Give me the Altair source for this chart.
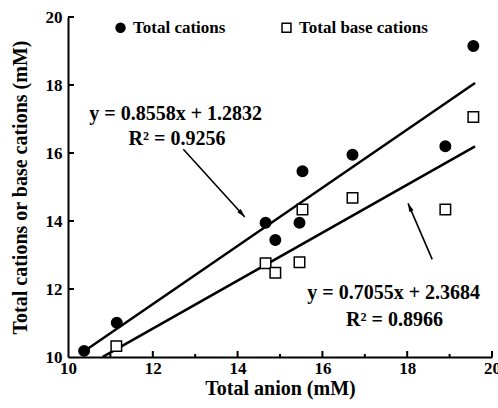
import altair as alt
import pandas as pd
import numpy as np

# ---- data ----
anion = [10.38, 11.15, 14.66, 14.89, 15.46, 15.53, 16.71, 18.90, 19.56]
total_cations = [10.18, 11.01, 13.95, 13.44, 13.95, 15.46, 15.95, 16.20, 19.15]
anion_base = [11.14, 14.66, 14.89, 15.46, 15.53, 16.71, 18.90, 19.56]
total_base_cations = [10.32, 12.76, 12.48, 12.79, 14.34, 14.68, 14.34, 17.06]

series_names = ["Total cations", "Total base cations"]
slopes = [0.8558, 0.7055]
intercepts = [1.2832, 2.3684]
line_x_start = [10.38, 10.82]
line_x_end = [19.6, 19.6]

eq_text = ["y = 0.8558x + 1.2832", "R² = 0.9256", "y = 0.7055x + 2.3684", "R² = 0.8966"]
eq_x = [12.54, 12.57, 17.68, 17.70]
eq_y = [16.98, 16.25, 11.72, 10.91]

arrow_x = [12.72, 18.59]
arrow_y = [16.11, 12.87]
arrow_x2 = [14.17, 18.02]
arrow_y2 = [14.12, 14.52]
arrow_angle = [137.7, 337.0]

major_x_ticks = [12, 14, 16, 18, 20]
minor_x_ticks = [11, 13, 15, 17, 19]
y_ticks = [12, 14, 16, 18, 20]

FONT = "Liberation Serif"

# ---- tables ----
pts = pd.concat([
    pd.DataFrame({"x": anion, "y": total_cations, "series": series_names[0]}),
    pd.DataFrame({"x": anion_base, "y": total_base_cations, "series": series_names[1]}),
])
lines = pd.concat([
    pd.DataFrame({"x": [line_x_start[i], line_x_end[i]],
                  "y": [slopes[i] * line_x_start[i] + intercepts[i], slopes[i] * line_x_end[i] + intercepts[i]],
                  "series": series_names[i]})
    for i in range(2)
])
eqs = pd.DataFrame({"x": eq_x, "y": eq_y, "label": eq_text})
arrows = pd.DataFrame({"x": arrow_x, "y": arrow_y, "x2": arrow_x2, "y2": arrow_y2, "angle": arrow_angle})
xt_major = pd.DataFrame({"x": major_x_ticks})
xt_minor = pd.DataFrame({"x": minor_x_ticks})
yt = pd.DataFrame({"y": y_ticks})

W, H = 424, 340
xs = alt.Scale(domain=[10, 20], nice=False, zero=False)
ys = alt.Scale(domain=[10, 20], nice=False, zero=False)
xaxis = alt.Axis(title="Total anion (mM)", values=[10, 12, 14, 16, 18, 20], ticks=False,
                 labelPadding=3, labelFlush=False, labelOverlap=False, labelBound=False,
                 titleY=37, titleBaseline="alphabetic")
yaxis = alt.Axis(title="Total cations or base cations (mM)", values=[10, 12, 14, 16, 18, 20], ticks=False,
                 labelPadding=6, labelFlush=False, labelOverlap=False, labelBound=False,
                 titleX=-42, titleBaseline="alphabetic")

def X(f="x"):
    return alt.X(f"{f}:Q", scale=xs, axis=xaxis)

def Y(f="y"):
    return alt.Y(f"{f}:Q", scale=ys, axis=yaxis)

line_layer = alt.Chart(lines).mark_line(color="black", strokeWidth=2.5, clip=True).encode(
    x=X(), y=Y(), detail="series:N")

legend = alt.Legend(title=None, symbolStrokeWidth=1.5, symbolSize=80)
point_layer = alt.Chart(pts).mark_point(filled=True, size=110, strokeWidth=1.5, opacity=1).encode(
    x=X(), y=Y(),
    shape=alt.Shape("series:N", scale=alt.Scale(domain=series_names, range=["circle", "square"]),
                    legend=legend),
    fill=alt.Fill("series:N", scale=alt.Scale(domain=series_names, range=["black", "white"]),
                  legend=legend),
    stroke=alt.Stroke("series:N", scale=alt.Scale(domain=series_names, range=["black", "black"]),
                      legend=legend),
)

arrow_line = alt.Chart(arrows).mark_rule(color="black", strokeWidth=1.6).encode(
    x=X(), y=Y(), x2="x2:Q", y2="y2:Q")
arrow_head = alt.Chart(arrows).mark_point(
    shape="M0,0L-0.6,2.2L0.6,2.2Z", filled=True, color="black", size=60, opacity=1).encode(
    x=X("x2"), y=Y("y2"), angle=alt.Angle("angle:Q", scale=None))

eq_layer = alt.Chart(eqs).mark_text(font=FONT, fontSize=20, fontWeight="bold", color="black",
                                    align="center", baseline="alphabetic").encode(
    x=X(), y=Y(), text="label:N")

xtick_major = alt.Chart(xt_major).mark_rule(color="black", strokeWidth=2).encode(
    x=X(), y=alt.value(H), y2=alt.value(H - 6))
xtick_minor = alt.Chart(xt_minor).mark_rule(color="black", strokeWidth=2).encode(
    x=X(), y=alt.value(H), y2=alt.value(H - 3))
ytick_layer = alt.Chart(yt).mark_rule(color="black", strokeWidth=2).encode(
    y=Y(), x=alt.value(0), x2=alt.value(6))

chart = alt.layer(
    line_layer, xtick_major, xtick_minor, ytick_layer, arrow_line, arrow_head, eq_layer, point_layer
).properties(
    width=W, height=H,
    background="white",
    autosize=alt.AutoSizeParams(type="none"),
    padding={"left": 68, "top": 17, "right": 6, "bottom": 51},
).configure_view(stroke=None).configure_axis(
    domainColor="black", domainWidth=2, grid=False,
    labelFont=FONT, labelFontSize=17, labelFontWeight="bold", labelColor="black",
    titleFont=FONT, titleFontSize=20, titleFontWeight="bold", titleColor="black",
).configure_legend(
    orient="none", legendX=44, legendY=2, direction="horizontal",
    labelFont=FONT, labelFontSize=17, labelFontWeight="bold", labelColor="black",
    symbolSize=80, symbolStrokeWidth=1.5, symbolOpacity=1,
    columnPadding=52, labelOffset=4, padding=0,
)

chart.save("out.html", embed_options={"renderer": "svg", "actions": False})
